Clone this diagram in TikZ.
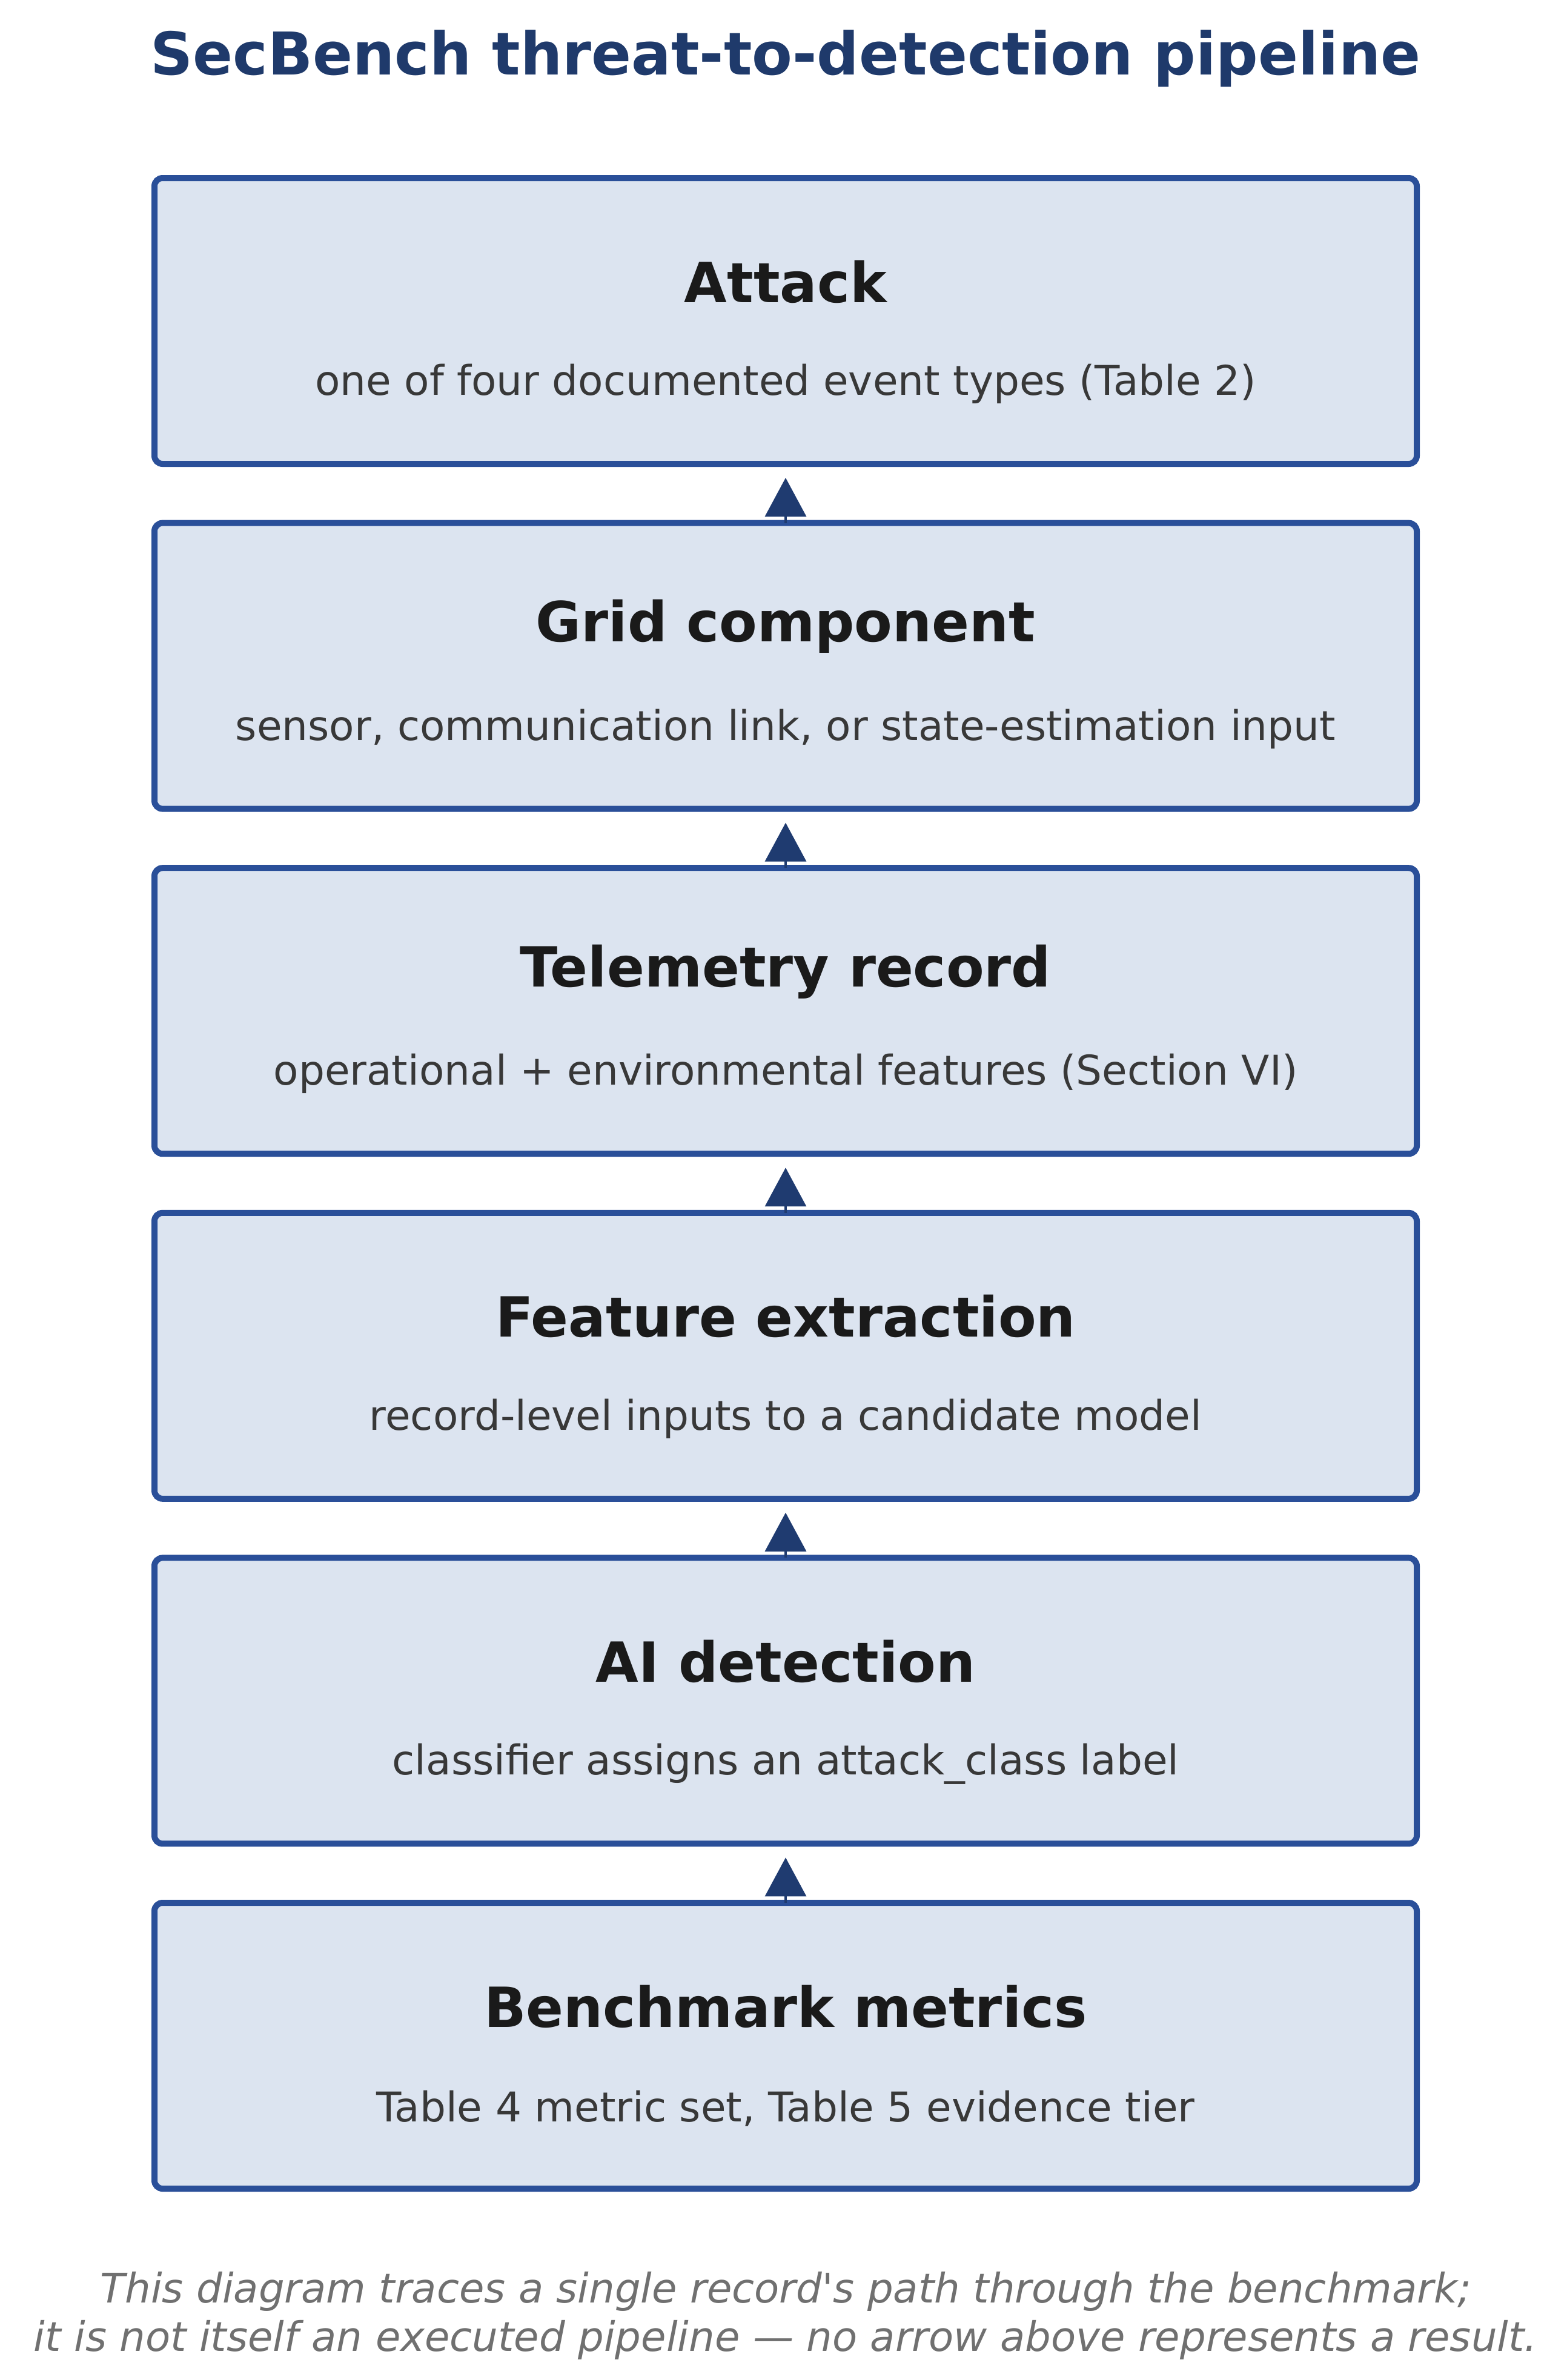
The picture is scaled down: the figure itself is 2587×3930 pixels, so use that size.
\documentclass[tikz,border=0pt]{standalone}
\usepackage{fontspec}
\setmainfont{DejaVu Sans}
\newfontfamily\capfont{DejaVu Sans Oblique}
\usetikzlibrary{arrows.meta,calc}
\definecolor{boxfill}{HTML}{DCE4F0}
\definecolor{boxline}{HTML}{2A4F99}
\definecolor{arrcol}{HTML}{1F3B70}
\definecolor{titlecol}{HTML}{1F3A6B}
\definecolor{headcol}{HTML}{1A1A1A}
\definecolor{subcol}{HTML}{383838}
\definecolor{capcol}{HTML}{707070}
\tikzset{
  stagebox/.style={draw=boxline, fill=boxfill, line width=3pt, rounded corners=4pt,
    minimum width=625.2pt, minimum height=141.6pt, inner sep=0pt, outer sep=0pt},
  headtext/.style={font=\fontsize{27.4}{32}\selectfont\bfseries, text=headcol, inner sep=0pt},
  subtext/.style={font=\fontsize{20.3}{24}\selectfont, text=subcol, inner sep=0pt},
  captext/.style={font=\capfont\fontsize{20.2}{24}\selectfont, text=capcol, inner sep=0pt},
  flowarrow/.style={draw=arrcol, line width=1pt, shorten >=6.9pt,
    -{Triangle[width=20.4pt,length=19.2pt]}, arrcol},
}
\begin{document}
\begin{tikzpicture}[x=0.3pt,y=-0.3pt]
\useasboundingbox (0,0) rectangle (2587,3930);
\fill[white] (0,0) rectangle (2587,3930);
\node[font=\fontsize{29.2}{34}\selectfont\bfseries, text=titlecol, inner sep=0pt] (title) at (1297,97) {SecBench threat-to-detection pipeline};

\foreach \i/\h/\s in {
  1/Attack/{one of four documented event types (Table 2)},
  2/Grid component/{sensor, communication link, or state-estimation input},
  3/Telemetry record/{operational + environmental features (Section VI)},
  4/Feature extraction/{record-level inputs to a candidate model},
  5/AI detection/{classifier assigns an attack\_class label},
  6/Benchmark metrics/{Table 4 metric set, Table 5 evidence tier}}{
  \node[stagebox] (b\i) at (1297,{530+569.6*(\i-1)}) {};
  \node[headtext] (h\i) at ($(b\i.center)+(0,-65)$) {\h};
  \node[subtext] (s\i) at ($(b\i.center)+(0,104)$) {\s};
}
\foreach \a/\b in {2/1,3/2,4/3,5/4,6/5}{
  \draw[flowarrow] (b\a.north) -- (b\b.south);
}
\node[captext] (cap1) at (1297,3784) {This diagram traces a single record's path through the benchmark;};
\node[captext] (cap2) at (1297,3864) {it is not itself an executed pipeline — no arrow above represents a result.};
\end{tikzpicture}
\end{document}
